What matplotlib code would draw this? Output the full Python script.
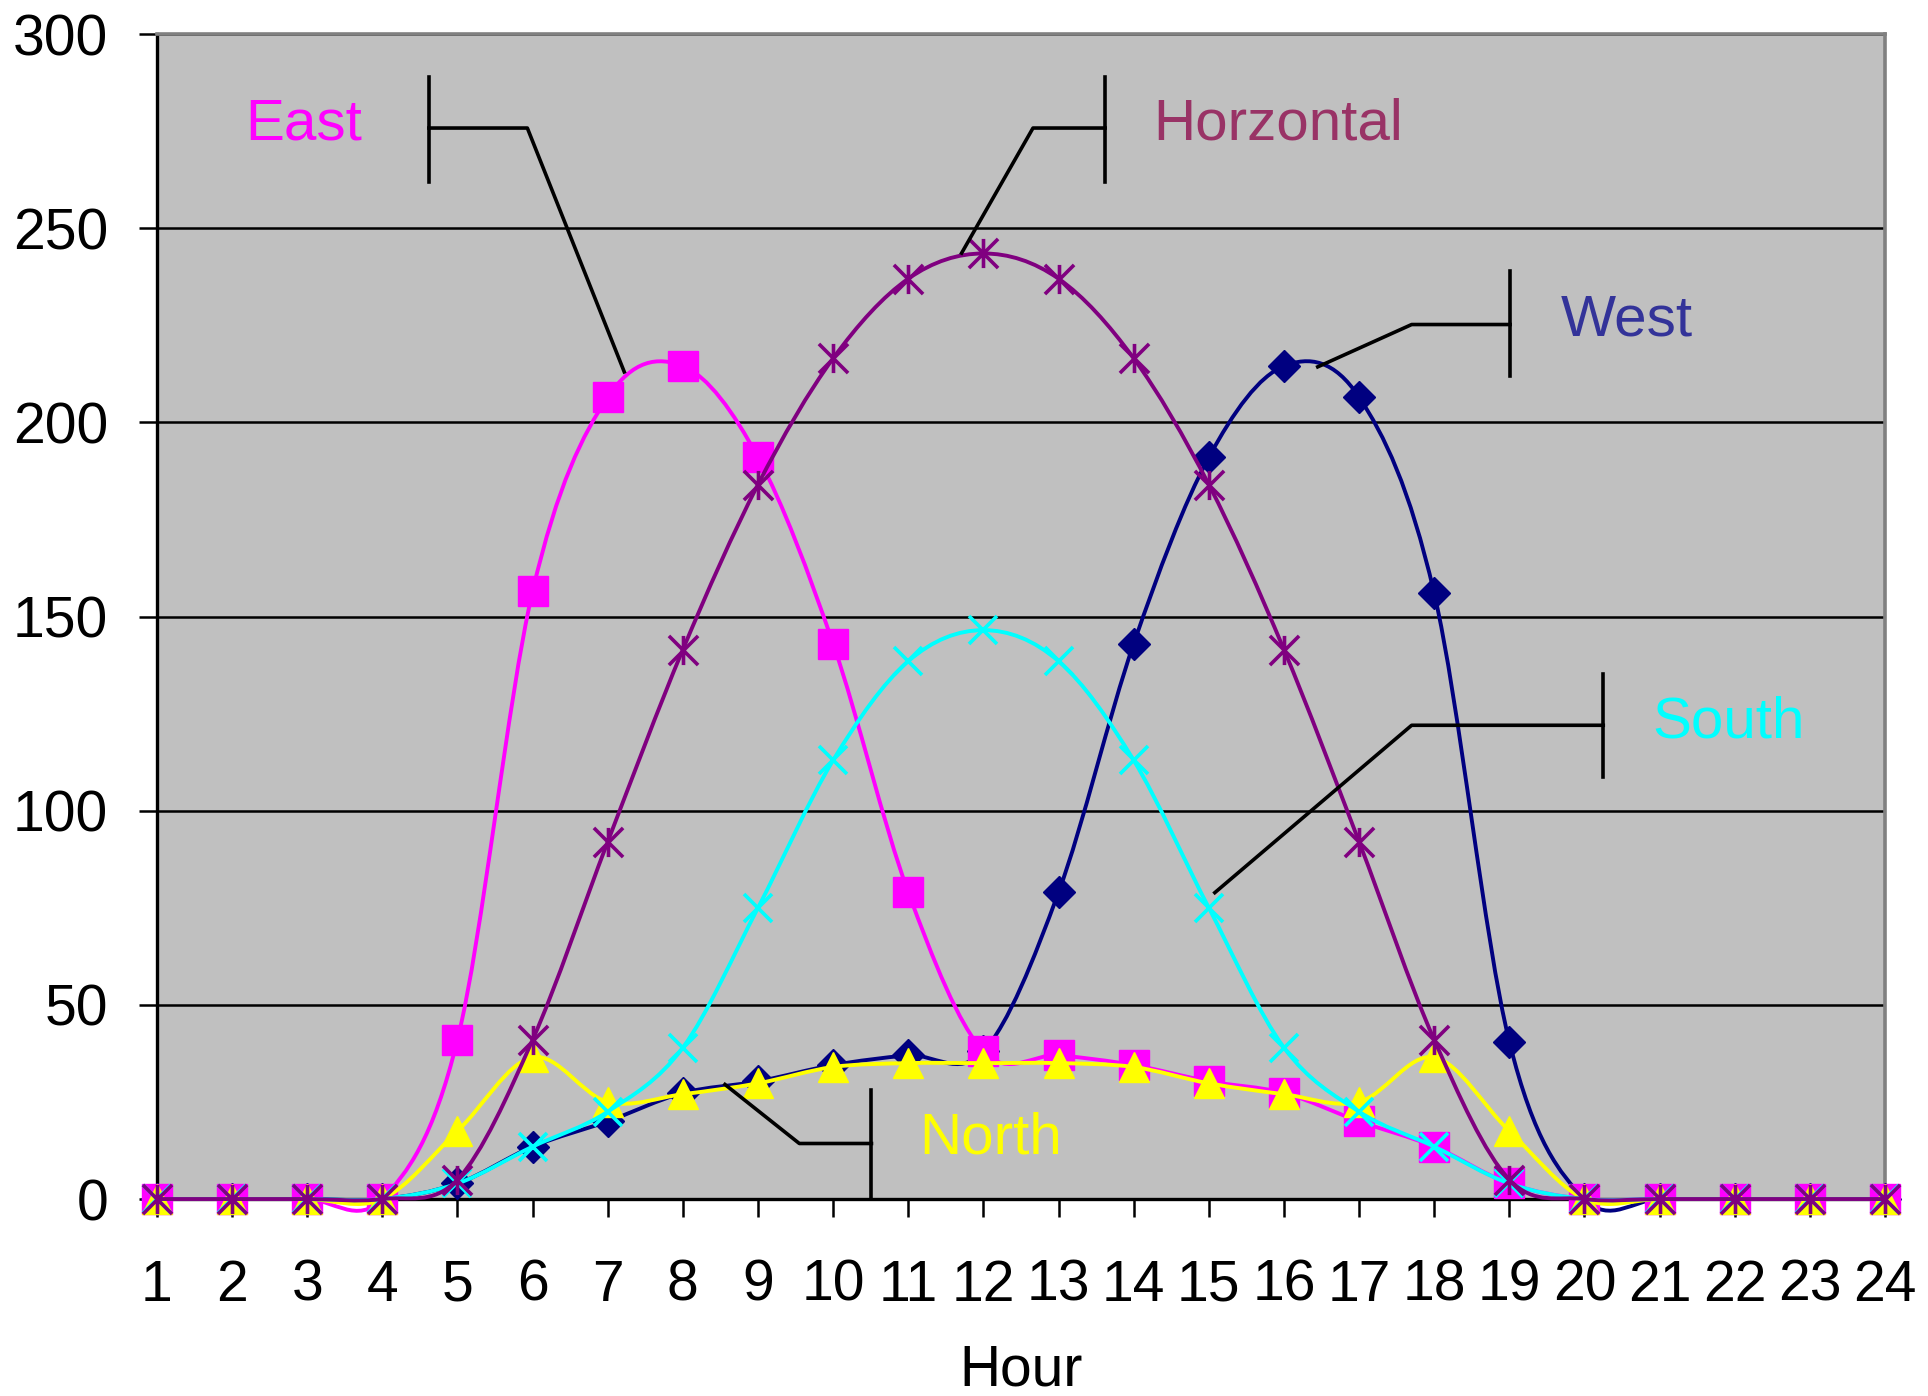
#!/usr/bin/env python3
import matplotlib

matplotlib.use("Agg")
import matplotlib.pyplot as plt
import numpy as np
from matplotlib.patches import PathPatch
from matplotlib.path import Path

plt.rcParams["font.family"] = ["Liberation Sans", "DejaVu Sans"]

hours = list(range(1, 25))
west = [0, 0, 0, 0, 4, 13.5, 20, 27.3, 30.3, 34.5, 37, 38, 79, 143, 191, 214.5, 206.5, 156, 40.5, 0, 0, 0, 0, 0]
east = [0, 0, 0, 0, 41, 156.5, 206.5, 214.5, 191, 143, 79, 38, 37, 34.5, 30.3, 27.3, 20, 13.5, 4, 0, 0, 0, 0, 0]
north = [0, 0, 0, 0, 17.5, 36.5, 25, 27, 29.8, 34, 35, 35, 35, 34, 29.8, 27, 25, 36.5, 17.5, 0, 0, 0, 0, 0]
south = [0, 0, 0, 0, 4, 13.5, 22.5, 39, 75, 113, 138.5, 146.5, 138.5, 113, 75, 39, 22.5, 13.5, 4, 0, 0, 0, 0, 0]
horizontal = [0, 0, 0, 0, 5, 41, 92, 141.5, 184, 216.5, 237, 243.5, 237, 216.5, 184, 141.5, 92, 41, 5, 0, 0, 0, 0, 0]

y_ticks = [0, 50, 100, 150, 200, 250, 300]

# Excel-like asterisk marker: an X with a vertical bar through it
STAR = Path(
    [(-1, -1), (1, 1), (-1, 1), (1, -1), (0, -1), (0, 1)],
    [Path.MOVETO, Path.LINETO, Path.MOVETO, Path.LINETO, Path.MOVETO, Path.LINETO],
)

# (name, values, line colour, marker, marker size, filled)
SERIES = [
    ("West", west, "#000080", "D", 16, True),
    ("East", east, "#FF00FF", "s", 21, True),
    ("North", north, "#FFFF00", "^", 21, True),
    ("South", south, "#00FFFF", "x", 20, False),
    ("Horizontal", horizontal, "#800080", STAR, 21, False),
]

# callout: label text, colour, text anchor, bracket bar x, bar y range, leader polyline
CALLOUTS = [
    ("East", "#FF00FF", (2.18, 272.8), 4.62, (262, 289), [(4.62, 275.8), (5.93, 275.8), (7.22, 213)]),
    ("Horzontal", "#993366", (14.26, 272.8), 13.62, (262, 289), [(13.62, 275.8), (12.66, 275.8), (11.71, 243.6)]),
    ("West", "#333399", (19.68, 222.3), 19.01, (212, 239), [(19.01, 225.2), (17.70, 225.2), (16.45, 214.3)]),
    ("South", "#00FFFF", (20.90, 118.8), 20.25, (108.6, 135.3), [(20.25, 122), (17.70, 122), (15.08, 78.9)]),
    ("North", "#FFFF00", (11.15, 11.8), 10.51, (0, 28.2), [(10.51, 14.3), (9.55, 14.3), (8.56, 29.5)]),
]


def smooth_path(xs, ys):
    # cubic bezier through every point, like Excel's "smoothed line"
    pts = np.column_stack([xs, ys]).astype(float)
    n = len(pts)
    verts = [pts[0]]
    codes = [Path.MOVETO]
    for i in range(n - 1):
        p0 = pts[max(i - 1, 0)]
        p1 = pts[i]
        p2 = pts[i + 1]
        p3 = pts[min(i + 2, n - 1)]
        verts += [p1 + (p2 - p0) / 6, p2 - (p3 - p1) / 6, p2]
        codes += [Path.CURVE4] * 3
    return Path(verts, codes)


fig = plt.figure(figsize=(19.28, 13.96), dpi=100)
ax = fig.add_axes([0.0814, 0.1411, 0.8963, 0.8345])
ax.set_facecolor("#C0C0C0")

for i, (name, values, color, marker, size, filled) in enumerate(SERIES):
    z = 3 + i
    patch = PathPatch(smooth_path(hours, values), facecolor="none", edgecolor=color,
                      lw=2.8, zorder=z, clip_on=False)
    ax.add_patch(patch)
    if filled:
        ax.plot(hours, values, linestyle="none", marker=marker, markersize=size,
                color=color, markeredgewidth=1.0, zorder=z + 0.5, clip_on=False)
    else:
        ax.plot(hours, values, linestyle="none", marker=marker, markersize=size,
                color=color, markeredgewidth=2.6, zorder=z + 0.5, clip_on=False)

for text, color, (tx, ty), bar_x, (b0, b1), leader in CALLOUTS:
    ax.plot([bar_x, bar_x], [b0, b1], color="black", lw=2.6, zorder=10, clip_on=False)
    lx, ly = zip(*leader)
    ax.plot(lx, ly, color="black", lw=2.6, zorder=10, clip_on=False)
    ax.text(tx, ty, text, color=color, fontsize=42, ha="left", va="baseline", zorder=11)

ax.set_xlim(1, 24)
ax.set_ylim(0, 300)
ax.set_xticks(hours)
ax.set_yticks(y_ticks)
ax.yaxis.grid(True, color="black", lw=1.8)
ax.set_axisbelow(True)

ax.tick_params(axis="both", direction="out", length=13, width=1.8, color="black",
               labelsize=41)
ax.tick_params(axis="x", pad=30)
ax.tick_params(axis="y", pad=22)

for side in ("left", "bottom"):
    ax.spines[side].set_color("black")
    ax.spines[side].set_linewidth(2.4)
for side in ("top", "right"):
    ax.spines[side].set_color("#808080")
    ax.spines[side].set_linewidth(2.6)

ax.set_xlabel("Hour", fontsize=41, labelpad=22)

fig.savefig("out.png", dpi=100)
